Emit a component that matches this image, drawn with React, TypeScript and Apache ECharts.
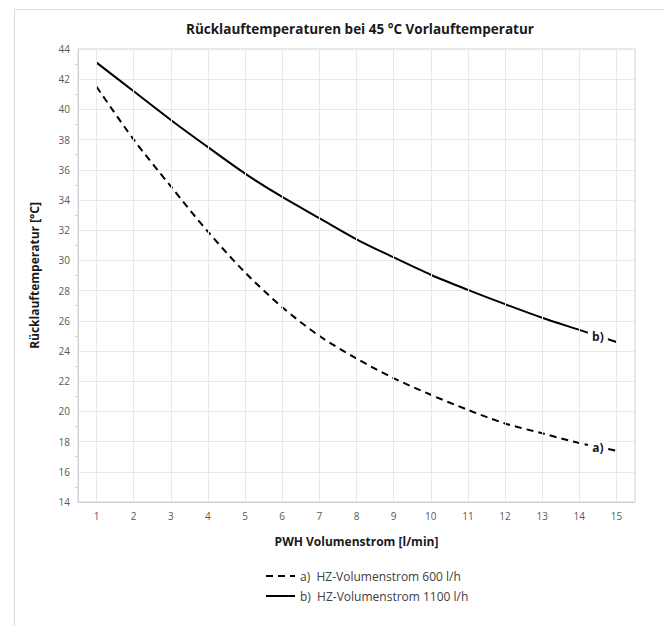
import React, { useEffect, useRef } from "react";
import * as echarts from "echarts";

const xValues = [1, 2, 3, 4, 5, 6, 7, 8, 9, 10, 11, 12, 13, 14, 15];
const seriesA = [41.5, 38.0, 34.9, 31.9, 29.2, 26.9, 25.0, 23.5, 22.2, 21.1, 20.1, 19.2, 18.55, 17.9, 17.4];
const seriesB = [43.1, 41.2, 39.3, 37.5, 35.75, 34.2, 32.8, 31.4, 30.2, 29.05, 28.05, 27.1, 26.2, 25.4, 24.6];
const nameA = "a)  HZ-Volumenstrom 600 l/h";
const nameB = "b)  HZ-Volumenstrom 1100 l/h";
const labelA = { text: "a)", x: 14.5, y: 17.63 };
const labelB = { text: "b)", x: 14.5, y: 24.97 };
const title = "Rücklauftemperaturen bei 45 °C Vorlauftemperatur";
const xName = "PWH Volumenstrom [l/min]";
const yName = "Rücklauftemperatur [°C]";

const FONT = "'Open Sans', 'Noto Sans', sans-serif";

export default function App() {
  const ref = useRef<HTMLDivElement>(null);
  useEffect(() => {
    if (!ref.current) return;
    const chart = echarts.init(ref.current, null, { renderer: "svg" });
    const pairs = (ys: number[]) => xValues.map((x, i) => [x, ys[i]]);
    const endLabel = (l: { text: string; x: number; y: number }) => ({
      silent: true,
      symbol: "rect",
      symbolSize: [20, 15],
      itemStyle: { color: "#ffffff" },
      label: {
        show: true,
        position: "inside",
        formatter: l.text,
        color: "#1a1a1a",
        fontFamily: FONT,
        fontWeight: "bold",
        fontSize: 12,
      },
      data: [{ coord: [l.x, l.y] }],
    });
    chart.setOption({
      animation: false,
      backgroundColor: "#ffffff",
      textStyle: { fontFamily: FONT },
      title: {
        text: title,
        left: 347,
        top: 9,
        textAlign: "center",
        textStyle: { fontFamily: FONT, fontWeight: "bold", fontSize: 13.5, color: "#1a1a1a" },
      },
      graphic: [
        {
          type: "rect",
          shape: { x: 6.5, y: 1.5, width: 652, height: 700 },
          style: { fill: "none", stroke: "#d9d9d9", lineWidth: 1 },
          silent: true,
          z: -10,
        },
      ],
      grid: { left: 70, right: 33, top: 41, bottom: 124, show: true, borderColor: "#d0d0d0", borderWidth: 1 },
      legend: {
        orient: "vertical",
        left: 252,
        top: 557,
        itemWidth: 29,
        itemHeight: 10,
        itemGap: 8,
        data: [nameA, nameB],
        itemStyle: { opacity: 0 },
        textStyle: { fontFamily: FONT, fontSize: 12, color: "#404040" },
      },
      xAxis: {
        type: "value",
        min: 0.5,
        max: 15.5,
        name: xName,
        nameLocation: "middle",
        nameGap: 33,
        nameTextStyle: { fontFamily: FONT, fontWeight: "bold", fontSize: 12, color: "#1a1a1a" },
        axisLine: { show: true, lineStyle: { color: "#d0d0d0" } },
        axisTick: { show: false },
        axisLabel: {
          customValues: xValues,
          margin: 9,
          fontSize: 10,
          color: "#595959",
          fontFamily: FONT,
        },
        splitLine: { show: false },
      },
      yAxis: {
        type: "value",
        min: 14,
        max: 44,
        interval: 2,
        name: yName,
        nameLocation: "middle",
        nameGap: 38,
        nameTextStyle: { fontFamily: FONT, fontWeight: "bold", fontSize: 12, color: "#1a1a1a" },
        axisLine: { show: true, lineStyle: { color: "#d0d0d0" } },
        axisTick: { show: false },
        minorTick: { show: true, splitNumber: 2, length: 3, lineStyle: { color: "#cfcfcf" } },
        axisLabel: { margin: 8, fontSize: 10, color: "#595959", fontFamily: FONT },
        splitLine: { show: true, lineStyle: { color: "#e8e8e8", width: 1 } },
      },
      series: [
        {
          name: "grid-x",
          type: "line",
          data: [],
          silent: true,
          z: 1,
          markLine: {
            silent: true,
            symbol: ["none", "none"],
            label: { show: false },
            lineStyle: { color: "#e8e8e8", width: 1, type: "solid" },
            data: xValues.map((x) => ({ xAxis: x })),
          },
        },
        {
          name: nameA,
          type: "line",
          data: pairs(seriesA),
          smooth: 0.3,
          symbol: "none",
          z: 3,
          lineStyle: { color: "#000000", width: 2, type: [7, 5] },
          itemStyle: { color: "#000000" },
          markPoint: endLabel(labelA),
        },
        {
          name: nameB,
          type: "line",
          data: pairs(seriesB),
          smooth: 0.3,
          symbol: "none",
          z: 3,
          lineStyle: { color: "#000000", width: 2, type: "solid" },
          itemStyle: { color: "#000000" },
          markPoint: endLabel(labelB),
        },
      ],
    });
    return () => chart.dispose();
  }, []);
  return <div ref={ref} style={{ width: 660, height: 618 }} />;
}
